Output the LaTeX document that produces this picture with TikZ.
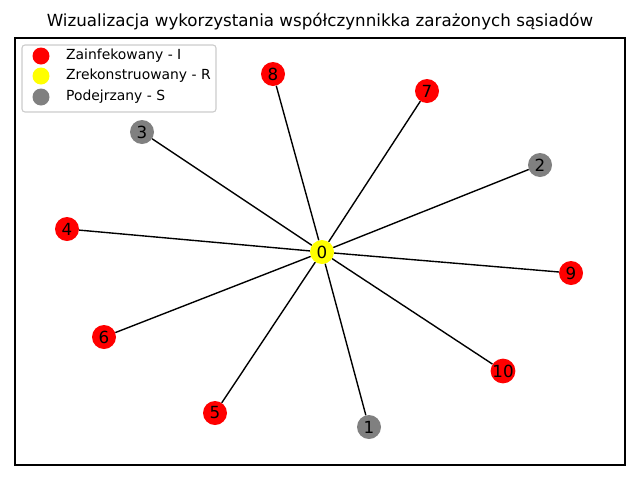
\documentclass[tikz,border=0pt]{standalone}
\usepackage{fontspec}
\setmainfont{DejaVu Sans}
\definecolor{infred}{HTML}{FF0000}
\definecolor{recyellow}{HTML}{FFFF00}
\definecolor{susgrey}{HTML}{808080}
\definecolor{legendedge}{HTML}{CCCCCC}

\begin{document}
\begin{tikzpicture}[x=1pt, y=-1pt,
	vertex/.style={circle, inner sep=0pt, minimum size=24pt,
		font=\fontsize{16.7}{18}\selectfont},
	infected/.style={vertex, fill=infred},
	recovered/.style={vertex, fill=recyellow},
	suspect/.style={vertex, fill=susgrey},
	edge/.style={black, line width=1.39pt},
	legmark/.style={circle, inner sep=0pt, minimum size=17pt},
	legtext/.style={anchor=west, font=\fontsize{13.9}{16}\selectfont, inner sep=0pt}]
	
	\useasboundingbox (0,0) rectangle (640,480);
	
	% Title and axes frame
	\node[font=\fontsize{16.7}{20}\selectfont] (title) at (320,22)
	{Wizualizacja wykorzystania współczynnikka zarażonych sąsiadów};
	\draw[line width=1.1pt] (15,38) rectangle (625,465);
	
	% --- Nodes ---
	\node[recovered] (n0) at (322,252) {0};
	\node[suspect] (n1) at (369,427) {1};
	\node[suspect] (n2) at (540,165) {2};
	\node[suspect] (n3) at (142,132) {3};
	\node[infected] (n4) at (67,229) {4};
	\node[infected] (n5) at (215,413) {5};
	\node[infected] (n6) at (104,337) {6};
	\node[infected] (n7) at (427,91) {7};
	\node[infected] (n8) at (273,74) {8};
	\node[infected] (n9) at (571,273) {9};
	\node[infected] (n10) at (503,371) {10};
	
	% --- Edges ---
	\foreach \k in {1,...,10}
	\draw[edge] (n0) -- (n\k);
	
	% Legend
	\draw[legendedge, fill=white, line width=1.1pt, rounded corners=3pt]
	(22,45) rectangle (216,112);
	\node[legmark, fill=infred] (legi) at (41,56) {};
	\node[legmark, fill=recyellow] (legr) at (41,76) {};
	\node[legmark, fill=susgrey] (legs) at (41,97) {};
	\node[legtext] at (66,56) {Zainfekowany - I};
	\node[legtext] at (66,76) {Zrekonstruowany - R};
	\node[legtext] at (66,97) {Podejrzany - S};
	
\end{tikzpicture}
\end{document}
